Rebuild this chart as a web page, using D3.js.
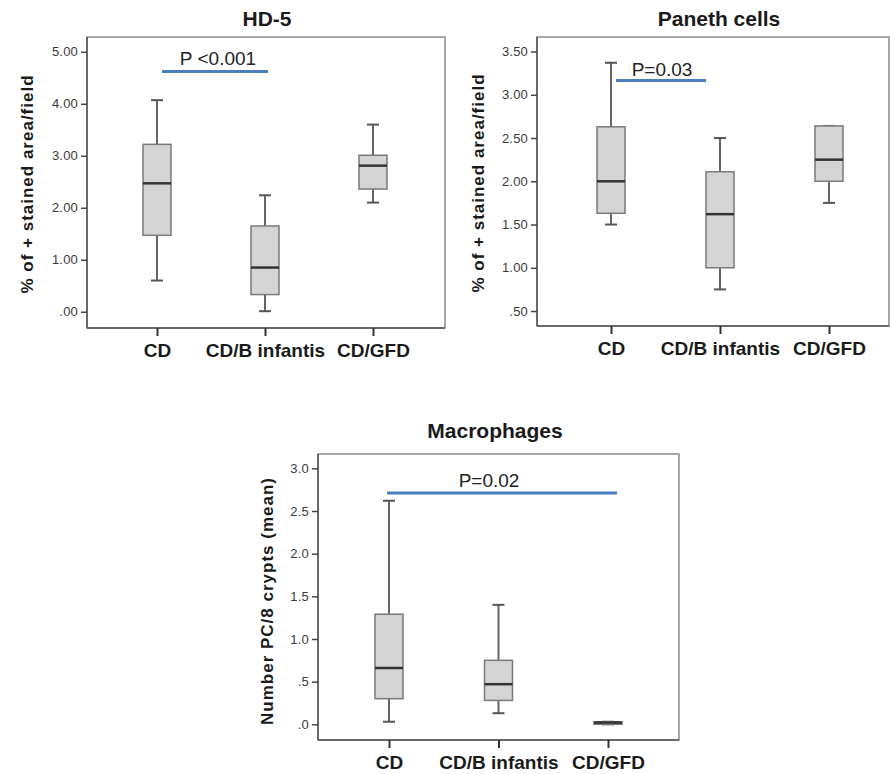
<!DOCTYPE html>
<html>
<head>
<meta charset="utf-8">
<script src="https://cdn.jsdelivr.net/npm/d3@7"></script>
<style>
  body { margin: 0; background: #fff; }
  svg { font-family: "Liberation Sans", Arial, sans-serif; }
</style>
</head>
<body>
<svg width="890" height="774"></svg>
<script>
const groups = ["CD", "CD/B infantis", "CD/GFD"];

// [min, q1, median, q3, max] per group
const hd5Stats = [
  [0.60, 1.47, 2.47, 3.22, 4.07],
  [0.01, 0.33, 0.85, 1.65, 2.24],
  [2.10, 2.36, 2.81, 3.01, 3.60]
];
const panethStats = [
  [1.50, 1.63, 2.00, 2.63, 3.37],
  [0.75, 1.00, 1.62, 2.11, 2.50],
  [1.75, 2.00, 2.25, 2.64, 2.64]
];
const macroStats = [
  [0.03, 0.30, 0.66, 1.29, 2.62],
  [0.13, 0.28, 0.47, 0.75, 1.40],
  [0.00, 0.00, 0.02, 0.03, 0.03]
];

const hd5Ticks = [0, 1, 2, 3, 4, 5];
const hd5TickLabels = [".00", "1.00", "2.00", "3.00", "4.00", "5.00"];
const panethTicks = [0.5, 1, 1.5, 2, 2.5, 3, 3.5];
const panethTickLabels = [".50", "1.00", "1.50", "2.00", "2.50", "3.00", "3.50"];
const macroTicks = [0, 0.5, 1, 1.5, 2, 2.5, 3];
const macroTickLabels = [".0", ".5", "1.0", "1.5", "2.0", "2.5", "3.0"];

const panels = [
  {
    title: "HD-5", titleX: 267, titleY: 26,
    ylabel: "% of + stained area/field", ylabelX: 27, ylabelY: 184,
    frame: { x0: 87, x1: 445, y0: 37, y1: 328 },
    cx: [157, 373],
    yDomain: [-0.313, 5.285],
    stats: hd5Stats, ticks: hd5Ticks, tickLabels: hd5TickLabels,
    sig: { from: 0, to: 1, lineY: 4.62, dx0: 5, dx1: 3, text: "P <0.001", textY: 4.74, textX: 218 }
  },
  {
    title: "Paneth cells", titleX: 719, titleY: 26,
    ylabel: "% of + stained area/field", ylabelX: 478, ylabelY: 183,
    frame: { x0: 537, x1: 889, y0: 37, y1: 326 },
    cx: [611, 829],
    yDomain: [0.327, 3.668],
    stats: panethStats, ticks: panethTicks, tickLabels: panethTickLabels,
    sig: { from: 0, to: 1, lineY: 3.165, dx0: 5, dx1: -14, text: "P=0.03", textY: 3.22, textX: 662 }
  },
  {
    title: "Macrophages", titleX: 495, titleY: 438,
    ylabel: "Number PC/8 crypts (mean)", ylabelX: 267, ylabelY: 601,
    frame: { x0: 318, x1: 679, y0: 454, y1: 740 },
    cx: [389, 608],
    yDomain: [-0.184, 3.168],
    stats: macroStats, ticks: macroTicks, tickLabels: macroTickLabels,
    sig: { from: 0, to: 2, lineY: 2.71, dx0: -2, dx1: 9, text: "P=0.02", textY: 2.78, textX: 489 }
  }
];

const svg = d3.select("svg");
const boxW = 28;
const capW = 12;

panels.forEach((p) => {
  const f = p.frame;
  const g = svg.append("g");

  const x = d3.scalePoint().domain(groups).range(p.cx);
  const y = d3.scaleLinear().domain(p.yDomain).range([f.y1, f.y0]);

  // frame
  g.append("rect")
    .attr("x", f.x0).attr("y", f.y0)
    .attr("width", f.x1 - f.x0).attr("height", f.y1 - f.y0)
    .attr("fill", "none")
    .attr("stroke", "#8a8a8a")
    .attr("stroke-width", 1.5);

  // y axis
  const yAxis = d3.axisLeft(y)
    .tickValues(p.ticks)
    .tickFormat((d, i) => p.tickLabels[i])
    .tickSize(6)
    .tickPadding(3);
  const ya = g.append("g").attr("transform", `translate(${f.x0},0)`).call(yAxis);
  ya.select(".domain").attr("d", `M0,${f.y0}V${f.y1}`).attr("stroke", "#555").attr("stroke-width", 1.5);
  ya.selectAll(".tick line").attr("stroke", "#444").attr("stroke-width", 1.5);
  ya.selectAll(".tick text")
    .attr("fill", "#3a3a3a")
    .style("font-size", "13px")
    .style("letter-spacing", "0.2px");

  // x axis
  const xAxis = d3.axisBottom(x).tickSize(8).tickPadding(8);
  const xa = g.append("g").attr("transform", `translate(0,${f.y1})`).call(xAxis);
  xa.select(".domain").attr("d", `M${f.x0},0H${f.x1}`).attr("stroke", "#555").attr("stroke-width", 1.5);
  xa.selectAll(".tick line").attr("stroke", "#333").attr("stroke-width", 2);
  xa.selectAll(".tick text")
    .attr("fill", "#1a1a1a")
    .style("font-size", "19px")
    .style("font-weight", "bold");

  // boxes
  const box = g.selectAll(".box")
    .data(p.stats)
    .enter()
    .append("g")
    .attr("class", "box")
    .attr("transform", (d, i) => `translate(${x(groups[i])},0)`);

  box.filter((d) => d[4] > d[3]).append("line")
    .attr("y1", (d) => y(d[3])).attr("y2", (d) => y(d[4]))
    .attr("stroke", "#666").attr("stroke-width", 2);
  box.filter((d) => d[1] > d[0]).append("line")
    .attr("y1", (d) => y(d[0])).attr("y2", (d) => y(d[1]))
    .attr("stroke", "#666").attr("stroke-width", 2);
  box.append("line")
    .attr("x1", -capW / 2).attr("x2", capW / 2)
    .attr("y1", (d) => y(d[4])).attr("y2", (d) => y(d[4]))
    .attr("stroke", "#555").attr("stroke-width", 2);
  box.append("line")
    .attr("x1", -capW / 2).attr("x2", capW / 2)
    .attr("y1", (d) => y(d[0])).attr("y2", (d) => y(d[0]))
    .attr("stroke", "#555").attr("stroke-width", 2);
  box.append("rect")
    .attr("x", -boxW / 2).attr("width", boxW)
    .attr("y", (d) => y(d[3]))
    .attr("height", (d) => Math.max(1, y(d[1]) - y(d[3])))
    .attr("fill", "#d4d4d4")
    .attr("stroke", "#7a7a7a")
    .attr("stroke-width", 1.5);
  box.append("line")
    .attr("x1", -boxW / 2).attr("x2", boxW / 2)
    .attr("y1", (d) => y(d[2])).attr("y2", (d) => y(d[2]))
    .attr("stroke", "#333").attr("stroke-width", 2.5);

  // significance bar
  const s = p.sig;
  g.append("line")
    .attr("x1", x(groups[s.from]) + s.dx0)
    .attr("x2", x(groups[s.to]) + s.dx1)
    .attr("y1", y(s.lineY)).attr("y2", y(s.lineY))
    .attr("stroke", "#4a7ebf").attr("stroke-width", 3);
  g.append("text")
    .attr("x", s.textX).attr("y", y(s.textY))
    .attr("text-anchor", "middle")
    .attr("fill", "#222")
    .style("font-size", "19px")
    .text(s.text);

  // title
  g.append("text")
    .attr("x", p.titleX).attr("y", p.titleY)
    .attr("text-anchor", "middle")
    .attr("fill", "#1a1a1a")
    .style("font-size", "21px")
    .style("font-weight", "bold")
    .text(p.title);

  // y label
  g.append("text")
    .attr("transform", `translate(${p.ylabelX},${p.ylabelY}) rotate(-90)`)
    .attr("text-anchor", "middle")
    .attr("dy", "0.35em")
    .attr("fill", "#1a1a1a")
    .style("font-size", "17px")
    .style("font-weight", "bold")
    .style("letter-spacing", "1px")
    .text(p.ylabel);
});
</script>
</body>
</html>
